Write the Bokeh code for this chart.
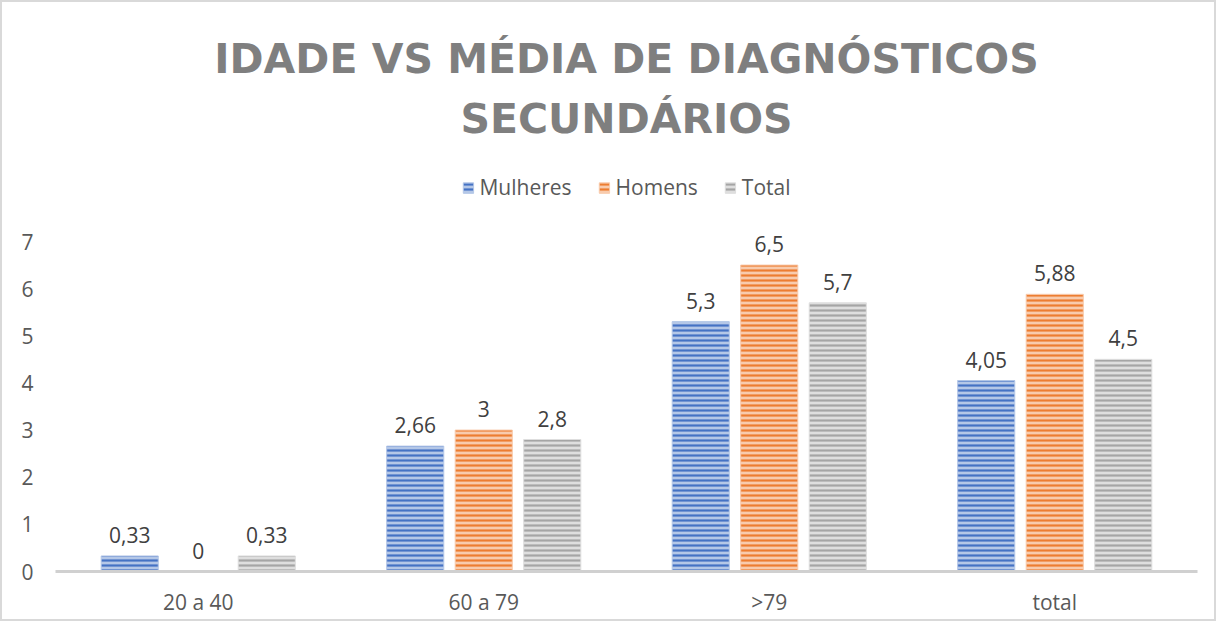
from bokeh.plotting import figure
from bokeh.models import (ColumnDataSource, FactorRange, Legend, LegendItem, LabelSet,
                          Label, FixedTicker, Range1d)
from bokeh.core.properties import value
from bokeh.transform import dodge
from bokeh.embed import file_html
from bokeh.resources import INLINE

categories = ["20 a 40", "60 a 79", ">79", "total"]
mulheres = [0.33, 2.66, 5.3, 4.05]
homens = [0, 3, 6.5, 5.88]
total = [0.33, 2.8, 5.7, 4.5]
series_names = ["Mulheres", "Homens", "Total"]
y_ticks = [0, 1, 2, 3, 4, 5, 6, 7]
title_lines = ["IDADE VS MÉDIA DE DIAGNÓSTICOS", "SECUNDÁRIOS"]


def fmt(v):
    return ("{:g}".format(v)).replace(".", ",")


data = dict(cat=categories, m=mulheres, h=homens, t=total,
            ml=[fmt(v) for v in mulheres], hl=[fmt(v) for v in homens], tl=[fmt(v) for v in total])
src = ColumnDataSource(data)

FONT = "Open Sans"
TXT = "#595959"

# layout (pixels)
W, H = 1216, 621
LEFT, RIGHT = 53, 21
BOTTOM = 52            # canvas px below the frame
FRAME_H = H - BOTTOM   # frame spans the whole canvas height
PX = 330 / 7.0         # px per unit of y
YMAX = FRAME_H / PX


def y_at(canvas_y):
    return (FRAME_H - canvas_y) / PX


p = figure(x_range=FactorRange(*categories, range_padding=0), y_range=Range1d(0, YMAX),
           width=W, height=H, output_backend="svg", toolbar_location=None,
           min_border_left=LEFT, min_border_right=RIGHT, min_border_bottom=BOTTOM, min_border_top=0)
p.title = None
p.outline_line_color = None
p.xgrid.grid_line_color = None
p.ygrid.grid_line_color = None
p.styles = {"border": "2px solid #d9d9d9"}

specs = [("m", "ml", -0.24, "#4472C4", "#b4c7e7"),
         ("h", "hl", 0.0, "#ED7D31", "#f8cbad"),
         ("t", "tl", 0.24, "#A5A5A5", "#dedede")]
renderers = []
for (col, lab, off, dark, light) in specs:
    r = p.vbar(x=dodge("cat", off, range=p.x_range), top=col, width=0.2, source=src,
               fill_color=light, line_color=light, line_width=1,
               hatch_pattern="horizontal_line", hatch_color=dark, hatch_scale=5, hatch_weight=2.2)
    renderers.append(r)
    ls = LabelSet(x=dodge("cat", off, range=p.x_range), y=col, text=lab, source=src,
                  text_align="center", text_baseline="bottom", y_offset=13,
                  text_font=value(FONT), text_font_size="21px", text_color="#404040")
    p.add_layout(ls)

# axes
p.yaxis.ticker = FixedTicker(ticks=y_ticks)
p.yaxis.axis_line_color = None
p.yaxis.major_tick_line_color = None
p.yaxis.minor_tick_line_color = None
p.yaxis.major_label_text_font = FONT
p.yaxis.major_label_text_font_size = "21px"
p.yaxis.major_label_text_color = TXT
p.yaxis.major_label_standoff = 16

p.xaxis.axis_line_color = "#d0d0d0"
p.xaxis.axis_line_width = 3
p.xaxis.major_tick_line_color = None
p.xaxis.minor_tick_line_color = None
p.xaxis.major_label_text_font = FONT
p.xaxis.major_label_text_font_size = "21px"
p.xaxis.major_label_text_color = TXT
p.xaxis.major_label_standoff = 10

legend = Legend(items=[LegendItem(label=n, renderers=[r]) for n, r in zip(series_names, renderers)],
                orientation="horizontal", location="top_center",
                label_text_font=FONT, label_text_font_size="21px", label_text_color=TXT,
                glyph_width=13, glyph_height=13, spacing=26, label_standoff=5,
                border_line_color=None, background_fill_alpha=0, margin=171, padding=4)
p.add_layout(legend, "center")

for line, cy in zip(title_lines, [56, 116]):
    p.add_layout(Label(x=2, y=y_at(cy), text=line, text_align="center", text_baseline="middle",
                       text_font="DejaVu Sans", text_font_style="bold", text_font_size="41px",
                       text_color="#7f7f7f"))

open("out.html", "w").write(file_html(p, INLINE))
